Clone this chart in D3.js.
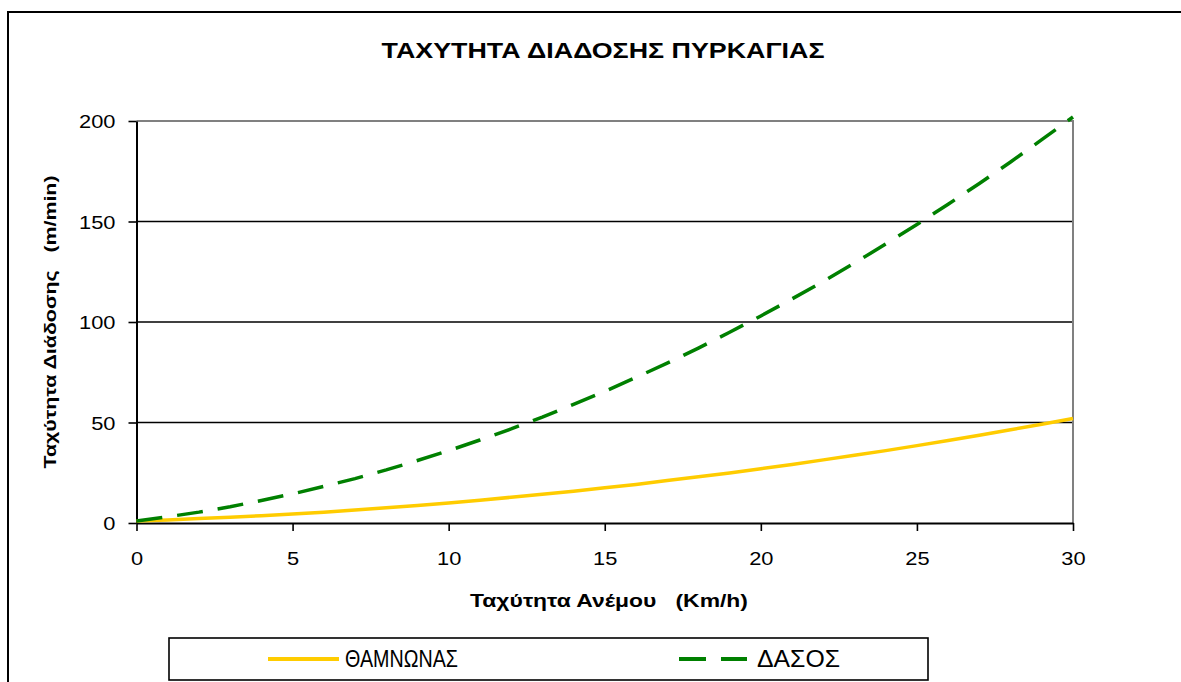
<!DOCTYPE html>
<html>
<head>
<meta charset="utf-8">
<script src="https://cdn.jsdelivr.net/npm/d3@7"></script>
<style>
  body { margin: 0; background: #fff; }
  svg { display: block; }
  text { font-family: "Liberation Sans", Arial, sans-serif; fill: #000; }
</style>
</head>
<body>
<svg id="chart" width="1181" height="682"></svg>
<script>
// Wind speed (km/h) and fire spread rate (m/min) for shrubland and forest
const windSpeed = [0,1,2,3,4,5,6,7,8,9,10,11,12,13,14,15,16,17,18,19,20,21,22,23,24,25,26,27,28,29,30];
const thamnonas = [1.0,1.5,2.2,2.9,3.6,4.5,5.4,6.5,7.6,8.7,10.0,11.3,12.8,14.3,15.8,17.5,19.2,21.1,23.0,24.9,27.0,29.1,31.4,33.7,36.0,38.5,41.0,43.7,46.4,49.1,52.0];
const dasos = [1.0,3.1,5.4,8.1,11.2,14.5,18.2,22.1,26.4,31.1,36.0,41.3,46.8,52.7,59.0,65.5,72.4,79.5,87.0,94.9,103.0,111.5,120.2,129.3,138.8,148.5,158.6,168.9,179.6,190.7,202.0];

const xTicks = [0,5,10,15,20,25,30];
const yTicks = [0,50,100,150,200];
const gridValues = [50,100,150];
const seriesNames = ["ΘΑΜΝΩΝΑΣ", "ΔΑΣΟΣ"];
const chartTitle = "ΤΑΧΥΤΗΤΑ ΔΙΑΔΟΣΗΣ ΠΥΡΚΑΓΙΑΣ";
const xTitle = "Ταχύτητα Ανέμου   (Km/h)";
const yTitle = "Ταχύτητα Διάδοσης   (m/min)";

const svg = d3.select("#chart");
const plot = { left: 136.5, right: 1073, top: 121, bottom: 523 };
const stretch = 1.15; // text in this chart is drawn horizontally widened

const x = d3.scaleLinear().domain([0, 30]).range([plot.left, plot.right]);
const y = d3.scaleLinear().domain([0, 200]).range([plot.bottom, plot.top]);

// outer chart frame (runs past the right and bottom edges)
svg.append("rect")
  .attr("x", 8).attr("y", 12).attr("width", 1300).attr("height", 800)
  .attr("fill", "none").attr("stroke", "#000").attr("stroke-width", 2);

// title
svg.append("text")
  .attr("x", 603).attr("y", 58)
  .attr("text-anchor", "middle")
  .attr("font-size", 22).attr("font-weight", "bold")
  .attr("textLength", 443).attr("lengthAdjust", "spacingAndGlyphs")
  .text(chartTitle);

// horizontal gridlines
svg.append("g").selectAll("line").data(gridValues).join("line")
  .attr("x1", plot.left).attr("x2", plot.right)
  .attr("y1", d => y(d)).attr("y2", d => y(d))
  .attr("stroke", "#000").attr("stroke-width", 1.6);

// plot border on top and right
svg.append("path")
  .attr("d", `M${plot.left},${plot.top}H${plot.right}V${plot.bottom}`)
  .attr("fill", "none").attr("stroke", "#808080").attr("stroke-width", 2);

// axes
const xAxis = svg.append("g")
  .attr("transform", `translate(0,${plot.bottom})`)
  .call(d3.axisBottom(x).tickValues(xTicks).tickSize(8).tickSizeOuter(0).tickFormat(d3.format("d")));
const yAxis = svg.append("g")
  .attr("transform", `translate(${plot.left},0)`)
  .call(d3.axisLeft(y).tickValues(yTicks).tickSize(8).tickSizeOuter(0).tickFormat(d3.format("d")));

[xAxis, yAxis].forEach(g => {
  g.select(".domain").attr("stroke", "#000").attr("stroke-width", 2);
  g.selectAll(".tick line").attr("stroke", "#000").attr("stroke-width", 1.6);
  g.selectAll(".tick text")
    .attr("font-family", "Liberation Sans, Arial, sans-serif")
    .attr("font-size", 19).attr("fill", "#000");
});
xAxis.selectAll(".tick text")
  .attr("y", 42).attr("dy", null)
  .attr("transform", `scale(${stretch},1)`);
yAxis.selectAll(".tick text")
  .attr("x", -21 / stretch).attr("dy", "0.35em")
  .attr("transform", `scale(${stretch},1)`);

// axis titles
svg.append("text")
  .attr("x", 609).attr("y", 607)
  .attr("text-anchor", "middle")
  .attr("font-size", 19).attr("font-weight", "bold")
  .style("white-space", "pre")
  .attr("textLength", 278).attr("lengthAdjust", "spacingAndGlyphs")
  .text(xTitle);

svg.append("text")
  .attr("transform", `translate(56,${(plot.top + plot.bottom) / 2}) rotate(-90)`)
  .attr("text-anchor", "middle")
  .attr("font-family", "DejaVu Sans, sans-serif")
  .attr("font-size", 17).attr("font-weight", "bold")
  .style("white-space", "pre")
  .attr("textLength", 293).attr("lengthAdjust", "spacingAndGlyphs")
  .text(yTitle);

// series lines
const line = vals => d3.line()
  .x((d, i) => x(windSpeed[i]))
  .y(d => y(d))(vals);

svg.append("path")
  .attr("d", line(thamnonas))
  .attr("fill", "none").attr("stroke", "#FFCC00").attr("stroke-width", 3.5)
  .attr("stroke-linejoin", "round");

svg.append("path")
  .attr("d", line(dasos))
  .attr("fill", "none").attr("stroke", "#008000").attr("stroke-width", 3.5)
  .attr("stroke-dasharray", "26,15");

// legend
const legend = svg.append("g");
legend.append("rect")
  .attr("x", 169).attr("y", 638).attr("width", 759).attr("height", 42)
  .attr("fill", "#fff").attr("stroke", "#000").attr("stroke-width", 1.6);

legend.append("line")
  .attr("x1", 268).attr("x2", 339).attr("y1", 659).attr("y2", 659)
  .attr("stroke", "#FFCC00").attr("stroke-width", 4);
legend.append("text")
  .attr("x", 345).attr("y", 667)
  .attr("font-size", 23)
  .attr("textLength", 113).attr("lengthAdjust", "spacingAndGlyphs")
  .text(seriesNames[0]);

legend.append("line")
  .attr("x1", 679).attr("x2", 747).attr("y1", 659).attr("y2", 659)
  .attr("stroke", "#008000").attr("stroke-width", 4)
  .attr("stroke-dasharray", "27,15");
legend.append("text")
  .attr("x", 757).attr("y", 667)
  .attr("font-size", 23)
  .attr("textLength", 83).attr("lengthAdjust", "spacingAndGlyphs")
  .text(seriesNames[1]);
</script>
</body>
</html>
